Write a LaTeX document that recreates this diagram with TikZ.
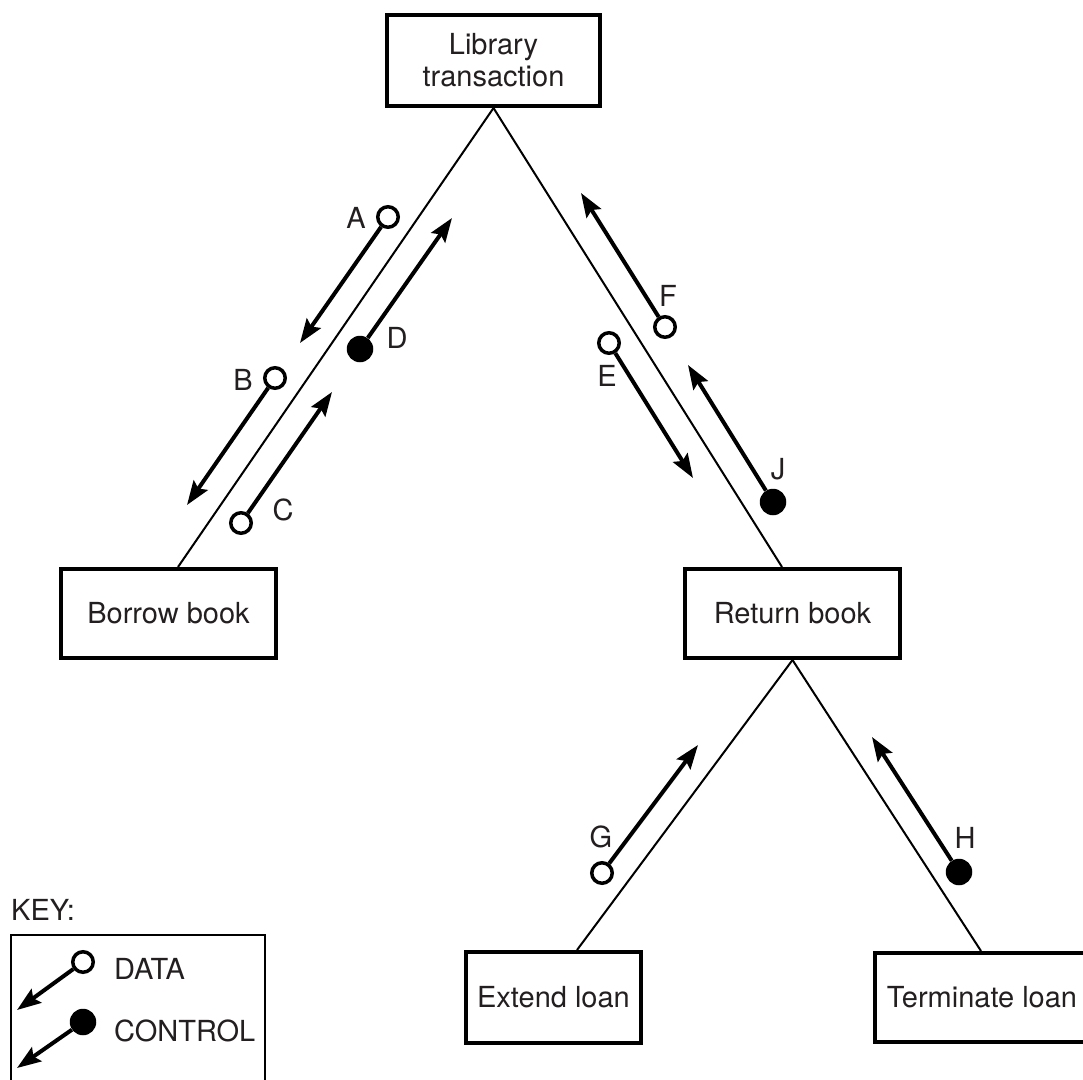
\documentclass[tikz,border=0pt]{standalone}
\usepackage{fontspec}
\setmainfont{TeX Gyre Heros}
\usetikzlibrary{arrows.meta}
\definecolor{ink}{RGB}{35,31,32}
\begin{document}
\begin{tikzpicture}[x=1pt,y=-1pt,
  every node/.style={font=\fontsize{29}{33}\selectfont, text=ink},
  box/.style={draw=black, line width=4pt, align=center, inner sep=0pt},
  link/.style={draw=black, line width=2pt},
  datadot/.style={circle, draw=black, fill=white, line width=3.5pt, inner sep=0pt, minimum size=20.5pt},
  ctrldot/.style={circle, fill=black, inner sep=0pt, minimum size=26.5pt},
  flow/.style={line width=4pt, -{Stealth[length=24pt,width=17pt,inset=4pt]}},
  lbl/.style={inner sep=0pt}
]
\useasboundingbox (0,0) rectangle (1083,1079);
\fill[white] (0,0) rectangle (1083,1079);

% boxes
\node[box, minimum width=213pt, minimum height=91pt] (lib) at (493.5,60.5) {Library\\[-1pt]transaction};
\node[box, minimum width=215pt, minimum height=89pt] (borrow) at (168.5,613.5) {Borrow book};
\node[box, minimum width=215pt, minimum height=89pt] (ret) at (792.5,613.5) {Return book};
\node[box, minimum width=175pt, minimum height=91pt] (ext) at (553.5,997.5) {Extend loan};
\node[box, minimum width=214pt, minimum height=89pt] (term) at (982,997.5) {Terminate loan};

% tree links
\draw[link] (lib.south) -- ([xshift=9.5pt]borrow.north);
\draw[link] (lib.south) -- ([xshift=-10.5pt]ret.north);
\draw[link] (ret.south) -- ([xshift=23.5pt]ext.north);
\draw[link] (ret.south) -- ([xshift=-1pt]term.north);

% couples
\node[datadot] (cA) at (388,217) {};
\coordinate (tA) at (300,343);
\node[datadot] (cB) at (275,378) {};
\coordinate (tB) at (187,505);
\node[datadot] (cC) at (241,523) {};
\coordinate (tC) at (332,392);
\node[ctrldot] (cD) at (360,349) {};
\coordinate (tD) at (452,218);
\node[datadot] (cE) at (609,343) {};
\coordinate (tE) at (693,478);
\node[datadot] (cF) at (665,327) {};
\coordinate (tF) at (581,193);
\node[ctrldot] (cJ) at (773,502) {};
\coordinate (tJ) at (688,365);
\node[datadot] (cG) at (602,873) {};
\coordinate (tG) at (698,745);
\node[ctrldot] (cH) at (959,872) {};
\coordinate (tH) at (872,737);

\foreach \n in {A,B,C,D,E,F,J,G,H} {\draw[flow] (c\n) -- (t\n);}

% labels
\node[lbl] (lA) at (356,218) {A};
\node[lbl] (lB) at (243,380) {B};
\node[lbl] (lC) at (283,510) {C};
\node[lbl] (lD) at (397,338) {D};
\node[lbl] (lE) at (607,376) {E};
\node[lbl] (lF) at (668,296) {F};
\node[lbl] (lG) at (601,837) {G};
\node[lbl] (lH) at (965,838) {H};
\node[lbl] (lJ) at (778,469) {J};

% key
\node[lbl, anchor=base west] (key) at (11,920) {KEY:};
\draw[line width=2.7pt] (11,1085) -- (11,935) -- (265,935) -- (265,1085);
\node[datadot] (kd) at (83,962) {};
\coordinate (kdt) at (17,1010);
\node[ctrldot] (kc) at (83,1022) {};
\coordinate (kct) at (17,1068);
\draw[flow] (kd) -- (kdt);
\draw[flow] (kc) -- (kct);
\node[lbl, anchor=west] (kdl) at (114,969) {DATA};
\node[lbl, anchor=west] (kcl) at (114,1031) {CONTROL};
\end{tikzpicture}
\end{document}
